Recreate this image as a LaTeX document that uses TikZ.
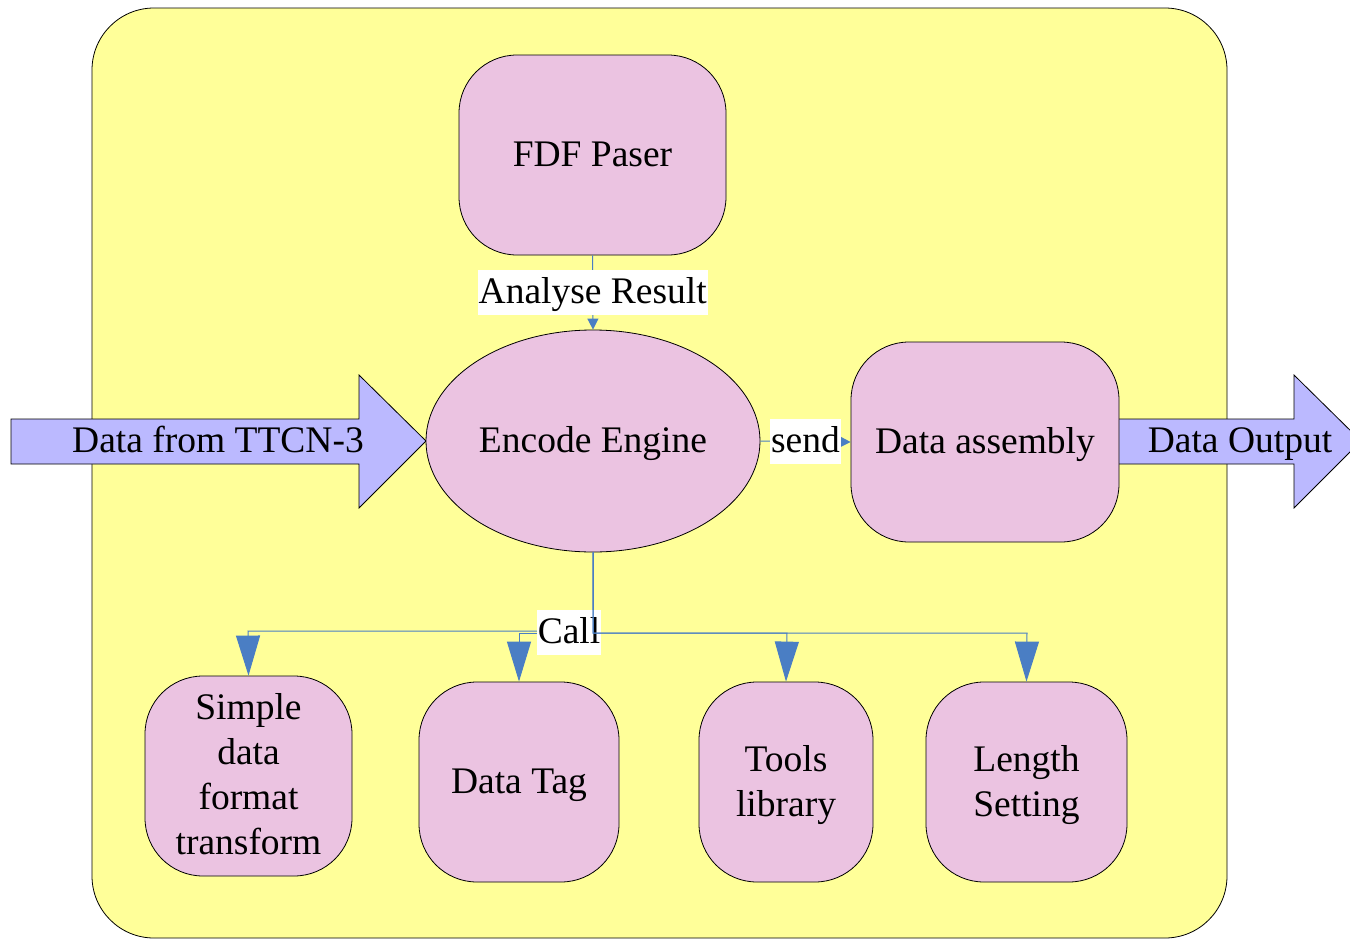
\documentclass[tikz,border=0pt]{standalone}
\usepackage{fontspec}
\setmainfont{Liberation Serif}
\usetikzlibrary{shapes.geometric,arrows.meta}

\definecolor{panelyellow}{HTML}{FFFF99}
\definecolor{boxpink}{HTML}{EBC3E1}
\definecolor{flowlav}{HTML}{BBB9FF}
\definecolor{linkblue}{HTML}{4A7EC4}

% centred lines of a module caption; the optional rule height nudges the text down
\newcommand\mtext[2][36.5pt]{\begin{tabular}{@{}c@{}}\rule{0pt}{#1}#2\end{tabular}}

\tikzset{
  module/.style={draw=black, line width=0.8pt, fill=boxpink, rounded corners=58pt,
    inner sep=0pt, font=\fontsize{37.5}{45}\selectfont},
  link/.style={draw=linkblue, line width=1pt},
  smalltip/.style={-{Triangle[width=11pt,length=11pt]}},
  bigtip/.style={-{Triangle[width=24pt,length=40pt]}},
  tag/.style={fill=white, inner xsep=1pt, inner ysep=0pt, text height=33pt, text depth=12pt,
    font=\fontsize{37.5}{45}\selectfont},
  flowarrow/.style={draw=black, line width=0.8pt, fill=flowlav},
  flowtext/.style={font=\fontsize{37.5}{45}\selectfont, inner sep=0pt, text height=24.7pt, text depth=2pt}
}

\begin{document}
\begin{tikzpicture}[x=1pt, y=-1pt]
\useasboundingbox (0,0) rectangle (1350,940);

% enclosing panel
\draw[line width=0.8pt, fill=panelyellow, rounded corners=62pt] (92,8) rectangle (1227,938);

% incoming and outgoing data flows
\draw[flowarrow] (11,419) -- (359,419) -- (359,375) -- (426,441) -- (359,508) -- (359,464) -- (11,464) -- cycle;
\node[flowtext] (inlabel) at (218,441) {Data from TTCN-3};
\draw[flowarrow] (1110,419) -- (1294,419) -- (1294,375) -- (1361,441) -- (1294,508) -- (1294,464) -- (1110,464) -- cycle;
\node[flowtext] (outlabel) at (1240,441) {Data Output};

% modules
\node[module, minimum width=267pt, minimum height=200pt] (fdf) at (592.5,155) {\mtext{FDF Paser}};
\node[module, ellipse, rounded corners=0pt, minimum width=334pt, minimum height=222pt] (enc) at (593,441) {\mtext{Encode Engine}};
\node[module, minimum width=268pt, minimum height=200pt] (asm) at (985,442) {\mtext{Data assembly}};
\node[module, minimum width=207pt, minimum height=200pt] (simple) at (248.5,776) {\mtext[35.5pt]{Simple\\data\\format\\transform}};
\node[module, minimum width=200pt, minimum height=200pt] (tag) at (519,782) {\mtext{Data Tag}};
\node[module, minimum width=174pt, minimum height=200pt] (tools) at (786,782) {\mtext{Tools\\library}};
\node[module, minimum width=201pt, minimum height=200pt] (len) at (1026.5,782) {\mtext{Length\\Setting}};

% parser result into the engine
\draw[link, smalltip] (fdf.south) -- (enc.north) node[tag, midway] (res) {Analyse Result};

% engine output to assembly
\draw[link, smalltip] (enc.east) -- (asm.west) node[tag, midway] (snd) {send};

% calls from the engine to the helper modules
\draw[link, bigtip] (enc.south) |- (248,631) -- (simple.north);
\draw[link, bigtip] (enc.south) |- (519,633) -- (tag.north);
\node[tag] (call) at (569,632.5) {Call};
\draw[link, bigtip] (enc.south) |- (787,633) -- (tools.north);
\draw[link, bigtip] (enc.south) |- (1027,633) -- (len.north);
\end{tikzpicture}
\end{document}
